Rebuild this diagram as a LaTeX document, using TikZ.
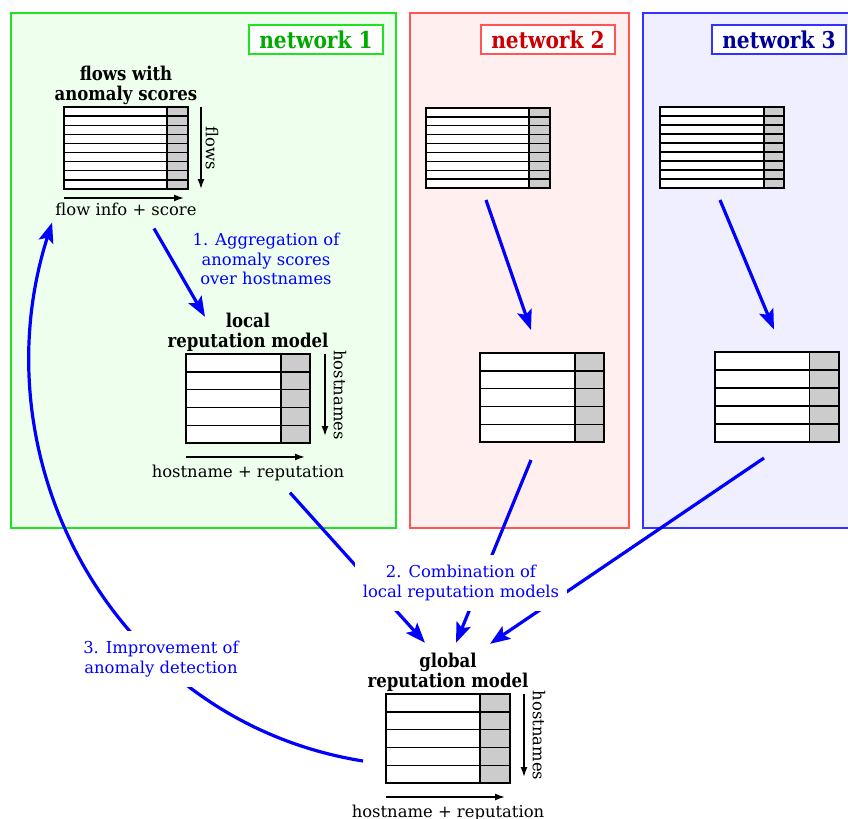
\documentclass[tikz,border=0pt]{standalone}
\usepackage{fontspec}
\setmainfont{DejaVu Serif}[BoldFeatures={FakeStretch=0.87}]
\usetikzlibrary{arrows.meta,calc,positioning}

\definecolor{netAline}{RGB}{34,224,34}
\definecolor{netAfill}{RGB}{238,255,238}
\definecolor{netAtext}{RGB}{0,170,0}
\definecolor{netBline}{RGB}{255,85,85}
\definecolor{netBfill}{RGB}{255,239,239}
\definecolor{netBtext}{RGB}{204,0,0}
\definecolor{netCline}{RGB}{51,51,255}
\definecolor{netCfill}{RGB}{239,239,255}
\definecolor{netCtext}{RGB}{0,0,153}
\definecolor{scoregray}{RGB}{204,204,204}
\definecolor{stepblue}{RGB}{0,0,255}

\tikzset{
	netbox/.style={draw=#1line, fill=#1fill, line width=1pt, inner sep=0pt, outer sep=0pt, minimum height=257.5pt},
	nettitle/.style={draw=#1line, fill=white, text=#1text, line width=1pt, font=\fontsize{11.6}{13}\selectfont\bfseries, minimum width=67pt, minimum height=14.5pt, inner sep=0pt, anchor=north east},
	tablenode/.style={fill=white, inner sep=0pt, outer sep=0pt, minimum width=62pt},
	rowline/.style={line width=0.7pt},
	tableline/.style={line width=1pt},
	ttl/.style={font=\fontsize{9.5}{10}\selectfont\bfseries, align=center, inner sep=1pt},
	caption/.style={inner sep=1pt},
	axis/.style={line width=0.75pt, -{Latex[length=5pt,width=3.5pt]}},
	steparrow/.style={stepblue, line width=1.6pt, -{Stealth[length=10pt,width=7.5pt,inset=2pt]}},
	steplabel/.style={text=stepblue, align=center, inner xsep=4pt, inner ysep=5pt},
}

% score column, rows and frame of a table node
\newcommand{\scoretable}[3]{%
	\fill[scoregray] ([xshift=-#3]#1.north east) rectangle (#1.south east);
	\foreach \r in {1,...,#2}
		\draw[rowline] ($(#1.north west)!\r/#2!(#1.south west)$) -- ($(#1.north east)!\r/#2!(#1.south east)$);
	\draw[rowline] ([xshift=-#3]#1.north east) -- ([xshift=-#3]#1.south east);
	\draw[tableline] (#1.north west) rectangle (#1.south east);
}

\begin{document}
\begin{tikzpicture}[x=0.5pt, y=-0.5pt, font=\fontsize{8.2}{9.8}\selectfont]
	\useasboundingbox (0,0) rectangle (848,819);

	% networks
	\node[netbox=netA, minimum width=192.5pt] (n1) at (203.5,270.5) {};
	\node[netbox=netB, minimum width=109.5pt, right=7pt of n1] (n2) {};
	\node[netbox=netC, minimum width=108pt, right=7pt of n2] (n3) {};
	\node[nettitle=netA] (n1ttl) at ($(n1.north east)+(-12,11)$) {network 1};
	\node[nettitle=netB] (n2ttl) at ($(n2.north east)+(-13,11)$) {network 2};
	\node[nettitle=netC] (n3ttl) at ($(n3.north east)+(-12,11)$) {network 3};

	% flow tables
	\node[tablenode, minimum height=41pt] (f1) at (126,148) {};
	\node[tablenode, minimum height=40pt] (f2) at (488,148) {};
	\node[tablenode, minimum height=40.5pt] (f3) at (722,147.5) {};
	\scoretable{f1}{9}{10.5pt}
	\scoretable{f2}{9}{10.5pt}
	\scoretable{f3}{9}{10pt}

	\node[ttl, above=0pt of f1] (f1ttl) {flows with\\anomaly scores};
	\node[caption, below=6pt of f1] (f1cap) {flow info + score};
	\draw[axis] ([yshift=-4.5pt]f1.south west) -- ([yshift=-4.5pt,xshift=-2pt]f1.south east);
	\draw[axis] ([xshift=6.5pt]f1.north east) -- ([xshift=6.5pt]f1.south east) node[midway, anchor=south, rotate=-90, inner sep=2pt] {flows};

	% local reputation models
	\node[tablenode, minimum height=44.5pt] (l1) at (248,398.5) {};
	\node[tablenode, minimum height=44.5pt] (l2) at (542,397.5) {};
	\node[tablenode, minimum height=45pt] (l3) at (776.5,397) {};
	\scoretable{l1}{5}{14.5pt}
	\scoretable{l2}{5}{14.5pt}
	\scoretable{l3}{5}{14.5pt}

	\node[ttl, above=0pt of l1] (l1ttl) {local\\reputation model};
	\node[caption, below=10pt of l1] (l1cap) {hostname + reputation};
	\draw[axis] ([yshift=-7pt]l1.south west) -- ([yshift=-7pt,xshift=-2.5pt]l1.south east);
	\draw[axis] ([xshift=7.5pt]l1.north east) -- ([xshift=7.5pt,yshift=3.5pt]l1.south east) node[midway, anchor=south, rotate=-90, inner ysep=4pt] {hostnames};

	% global reputation model
	\node[tablenode, minimum height=44.5pt] (g) at (448,738.5) {};
	\scoretable{g}{5}{15pt}
	\node[ttl, above=0pt of g] (gttl) {global\\reputation model};
	\node[caption, below=10pt of g] (gcap) {hostname + reputation};
	\draw[axis] ([yshift=-7pt]g.south west) -- ([yshift=-7pt,xshift=-2.5pt]g.south east);
	\draw[axis] ([xshift=7pt]g.north east) -- ([xshift=7pt,yshift=3pt]g.south east) node[midway, anchor=south, rotate=-90, inner ysep=4pt] {hostnames};

	% step 1
	\draw[steparrow] ($(f1cap.south)+(28,10)$) -- ($(l1ttl.north)+(-43,6)$);
	\draw[steparrow] ($(f2.south)+(-2,12)$) -- ($(l2.north)+(-11,-23)$);
	\draw[steparrow] ($(f3.south)+(-2,12)$) -- ($(l3.north)+(-2.5,-22.5)$);
	\node[steplabel] (agg) at (266,259) {1. Aggregation of\\anomaly scores\\over hostnames};

	% step 2
	\draw[steparrow] ($(l1cap.south)+(42,9)$) -- ($(gttl.north)+(-23,-8)$);
	\draw[steparrow] ($(l2.south)+(-11,18)$) -- ($(gttl.north)+(8,-8)$);
	\draw[steparrow] ($(l3.south)+(-12.5,16)$) -- ($(gttl.north)+(42,-7)$);
	\node[steplabel, fill=white] (comb) at (461,583) {2. Combination of\\local reputation models};

	% step 3
	\draw[steparrow] ($(g.south west)+(-23,-22)$) .. controls +(-250,-40) and +(-76,238) .. ($(f1cap.south west)+(-1,4)$);
	\node[steplabel, fill=white] (impr) at (161,659) {3. Improvement of\\anomaly detection};
\end{tikzpicture}
\end{document}
